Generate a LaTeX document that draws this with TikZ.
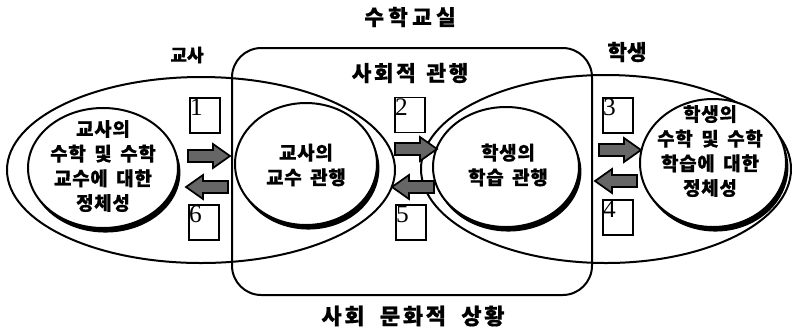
\documentclass[tikz,border=0pt]{standalone}
\usepackage{fontspec}
\usetikzlibrary{shapes.geometric,shadows}
\newfontfamily\kr{Noto Sans CJK KR}
\newfontfamily\numfont{Liberation Serif}
\newcommand\myRarrow[3]{\filldraw[blockarr] (#2,#3) ++(-21,-6) -- ++(25,0) -- ++(0,-6) -- ++(17,12) -- ++(-17,12) -- ++(0,-6) -- ++(-25,0) -- cycle;}
\newcommand\myLarrow[3]{\filldraw[blockarr] (#2,#3) ++(21,-6) -- ++(-25,0) -- ++(0,-6) -- ++(-17,12) -- ++(17,12) -- ++(0,-6) -- ++(25,0) -- cycle;}
\newcommand\wsp{\hspace{0.45em}}
\begin{document}
\begin{tikzpicture}[x=0.75pt,y=-0.75pt,
  bigell/.style={ellipse,draw,line width=1.5pt,inner sep=0pt},
  inell/.style={ellipse,draw,line width=1.5pt,fill=white,inner sep=0pt,
     drop shadow={shadow xshift=1.8pt,shadow yshift=-3.4pt,fill=black,opacity=1}},
  intxt/.style={inner sep=0pt,align=center,
     font=\kr\bfseries\fontsize{14.2}{18.5}\selectfont\addfontfeatures{LetterSpace=4,FakeBold=0.6}},
  numbox/.style={draw,line width=1.2pt,minimum width=22.5pt,minimum height=26.25pt,inner sep=0pt},
  numtxt/.style={anchor=north west,inner sep=0pt,font=\numfont\fontsize{19}{19}\selectfont},
  blockarr/.style={draw=black,fill=black!60,line width=1.3pt,line join=miter},
  lbl/.style={inner sep=0pt,font=\kr\bfseries}]
\useasboundingbox (0,0) rectangle (796,330);
% big frames
\node[draw,line width=1.5pt,rounded corners=22pt,minimum width=270pt,minimum height=185.25pt,inner sep=0pt] (room) at (412,171.5) {};
\node[bigell,minimum width=291pt,minimum height=139.5pt] (bigT) at (201,170) {};
\node[bigell,minimum width=277.5pt,minimum height=141pt] (bigS) at (606,169) {};
% inner ellipses
\node[inell,minimum width=112.5pt,minimum height=90pt] (idT) at (103,168) {};
\node[inell,minimum width=106.5pt,minimum height=91.5pt] (prT) at (306,164) {};
\node[inell,minimum width=109.5pt,minimum height=90pt] (prS) at (506,167) {};
\node[inell,minimum width=109.5pt,minimum height=96pt] (idS) at (713,163) {};
\node[intxt] (tidT) at (103,166) {교사의\\수학\wsp 및\wsp 수학\\교수에\wsp 대한\\정체성};
\node[intxt] (tprT) at (306,165) {교사의\\교수\wsp 관행};
\node[intxt] (tprS) at (508,165) {학생의\\학습\wsp 관행};
\node[intxt] (tidS) at (710,151) {학생의\\수학\wsp 및\wsp 수학\\학습에\wsp 대한\\정체성};
% numbered boxes
\node[numbox] (b1) at (205,115.5) {};
\node[numbox] (b6) at (204,222.5) {};
\node[numbox] (b2) at (410,115) {};
\node[numbox] (b5) at (411,222.5) {};
\node[numbox] (b3) at (618,115.5) {};
\node[numbox] (b4) at (618,217.5) {};
\node[numtxt] (n1) at ([shift={(0.5pt,-1pt)}]b1.north west) {1};
\node[numtxt] (n6) at ([shift={(0.5pt,-1pt)}]b6.north west) {6};
\node[numtxt] (n2) at ([shift={(0.5pt,-1pt)}]b2.north west) {2};
\node[numtxt] (n5) at ([shift={(0.5pt,-1pt)}]b5.north west) {5};
\node[numtxt] (n3) at ([shift={(0.5pt,-1pt)}]b3.north west) {3};
\node[numtxt] (n4) at ([shift={(0.5pt,-1pt)}]b4.north west) {4};
% block arrows
\myRarrow{a1}{209}{156}
\myLarrow{a6}{207}{187}
\myRarrow{a2}{416}{149}
\myLarrow{a5}{413}{187}
\myRarrow{a3}{620}{150}
\myLarrow{a4}{616}{181}
% labels
\node[lbl,font=\kr\bfseries\fontsize{16}{16}\selectfont\addfontfeatures{LetterSpace=20,FakeBold=0.5}] (title) at (410,17) {수학교실};
\node[lbl,font=\kr\bfseries\fontsize{13.5}{13.5}\selectfont\addfontfeatures{FakeBold=0.6}] (tch) at (187,55) {교사};
\node[lbl,font=\kr\bfseries\fontsize{16}{16}\selectfont\addfontfeatures{FakeBold=0.6}] (stu) at (627,52) {학생};
\node[lbl,font=\kr\bfseries\fontsize{16}{16}\selectfont\addfontfeatures{LetterSpace=12,FakeBold=0.6}] (soc) at (410,73) {사회적\hspace{0.5em}관행};
\node[lbl,font=\kr\bfseries\fontsize{16.5}{16.5}\selectfont\addfontfeatures{LetterSpace=12,FakeBold=0.6}] (cult) at (413,316) {사회\hspace{0.7em}문화적\hspace{0.7em}상황};
\end{tikzpicture}
\end{document}
